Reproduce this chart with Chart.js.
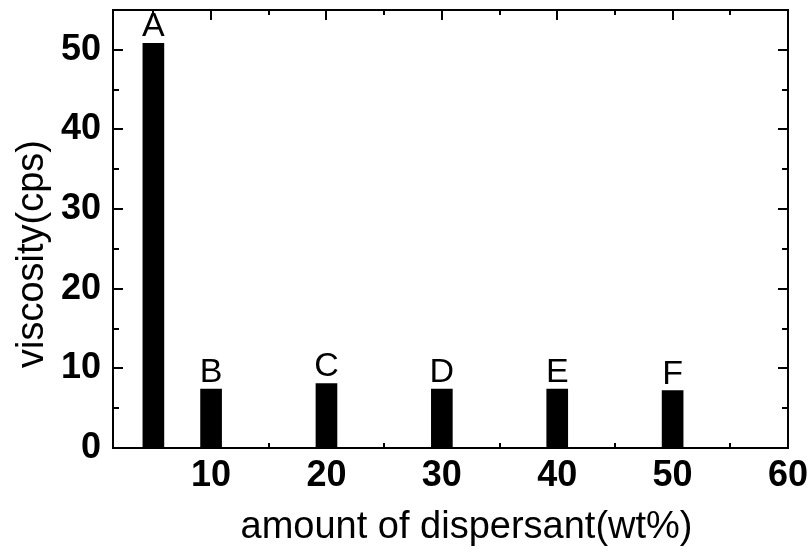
<!DOCTYPE html>
<html>
<head>
<meta charset="utf-8">
<script src="https://cdn.jsdelivr.net/npm/chart.js@4/dist/chart.umd.min.js"></script>
<style>
  html, body { margin: 0; padding: 0; background: #fff; }
  #wrap { width: 811px; height: 558px; }
</style>
</head>
<body>
<div id="wrap"><canvas id="viscChart"></canvas></div>
<script>
// dispersant amount (wt%) and measured viscosity (cps)
const dispersant = [5, 10, 20, 30, 40, 50];
const viscosity = [50.8, 7.4, 8.1, 7.4, 7.4, 7.2];
const sampleNames = ['A', 'B', 'C', 'D', 'E', 'F'];
const xTickValues = [10, 20, 30, 40, 50, 60];
const yTickValues = [0, 10, 20, 30, 40, 50];
const xTitle = 'amount of dispersant(wt%)';
const yTitle = 'viscosity(cps)';

const FONT = "'Liberation Sans', Arial, sans-serif";

// frame around the plot with inward ticks (major + minor every 5)
const frameTicks = {
  id: 'frameTicks',
  afterDraw(chart) {
    const { ctx, chartArea: a, scales: { x, y } } = chart;
    ctx.save();
    ctx.strokeStyle = '#000';
    ctx.lineWidth = 2;
    ctx.strokeRect(a.left, a.top, a.right - a.left, a.bottom - a.top);
    ctx.beginPath();
    for (let v = Math.ceil(x.min / 5) * 5; v <= x.max; v += 5) {
      const px = Math.round(x.getPixelForValue(v));
      const len = v % 10 === 0 ? 10 : 5;
      ctx.moveTo(px, a.bottom); ctx.lineTo(px, a.bottom - len);
      ctx.moveTo(px, a.top); ctx.lineTo(px, a.top + len);
    }
    for (let v = Math.ceil(y.min / 5) * 5; v <= y.max; v += 5) {
      const py = Math.round(y.getPixelForValue(v));
      const len = v % 10 === 0 ? 10 : 6;
      ctx.moveTo(a.left, py); ctx.lineTo(a.left + len, py);
      ctx.moveTo(a.right, py); ctx.lineTo(a.right - len, py);
    }
    ctx.stroke();
    ctx.restore();
  }
};

// sample letters above each bar
const barNames = {
  id: 'barNames',
  afterDatasetsDraw(chart) {
    const { ctx } = chart;
    const meta = chart.getDatasetMeta(0);
    ctx.save();
    ctx.fillStyle = '#000';
    ctx.font = '34px ' + FONT;
    ctx.textAlign = 'center';
    ctx.textBaseline = 'alphabetic';
    meta.data.forEach((bar, i) => {
      ctx.fillText(sampleNames[i], bar.x, bar.y - 7);
    });
    ctx.restore();
  }
};

// axis titles, drawn by hand so they can sit a little off-centre
const axisTitles = {
  id: 'axisTitles',
  afterDraw(chart) {
    const { ctx, chartArea: a } = chart;
    ctx.save();
    ctx.fillStyle = '#000';
    ctx.font = '38px ' + FONT;
    ctx.textAlign = 'center';
    ctx.textBaseline = 'alphabetic';
    ctx.fillText(xTitle, (a.left + a.right) / 2 + 16, 538);
    ctx.translate(43, (a.top + a.bottom) / 2 + 25);
    ctx.rotate(-Math.PI / 2);
    ctx.fillText(yTitle, 0, 0);
    ctx.restore();
  }
};

const points = dispersant.map((d, i) => ({ x: d, y: viscosity[i] }));

new Chart(document.getElementById('viscChart'), {
  type: 'bar',
  data: {
    datasets: [{
      data: points,
      backgroundColor: '#000',
      borderWidth: 0,
      barThickness: 21
    }]
  },
  options: {
    responsive: true,
    maintainAspectRatio: false,
    animation: false,
    layout: { padding: { top: 10, right: 23, bottom: 0, left: 0 } },
    plugins: {
      legend: { display: false },
      tooltip: { enabled: false }
    },
    scales: {
      x: {
        type: 'linear',
        min: 1.5,
        max: 60,
        offset: false,
        grid: { display: false, drawTicks: false },
        border: { display: false },
        afterBuildTicks: s => { s.ticks = xTickValues.map(v => ({ value: v })); },
        afterFit: s => {
          s.height = 110;
          s.paddingLeft = 0;
          s.paddingRight = 0;
        },
        ticks: {
          color: '#000',
          padding: 6,
          maxRotation: 0,
          font: { family: FONT, size: 36, weight: 'bold' }
        }
      },
      y: {
        min: 0,
        max: 55,
        grid: { display: false, drawTicks: false },
        border: { display: false },
        afterBuildTicks: s => { s.ticks = yTickValues.map(v => ({ value: v })); },
        afterFit: s => {
          s.width = 113;
          s.paddingTop = 0;
          s.paddingBottom = 0;
        },
        ticks: {
          color: '#000',
          padding: 12,
          font: { family: FONT, size: 36, weight: 'bold' }
        }
      }
    }
  },
  plugins: [frameTicks, barNames, axisTitles]
});
</script>
</body>
</html>
